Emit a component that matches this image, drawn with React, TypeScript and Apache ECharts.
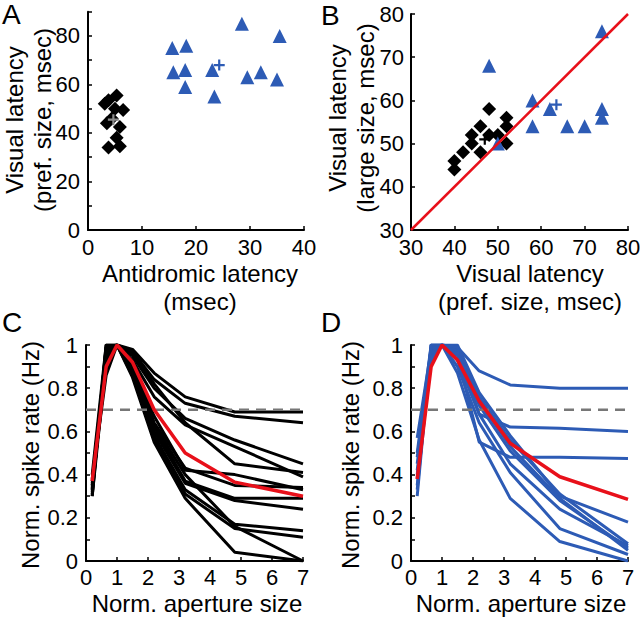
import React, { useEffect, useRef } from "react";
import * as echarts from "echarts";

const FONT = "'Liberation Sans', Arial, Helvetica, sans-serif";
const BLUE = "#2D5BB5";
const RED = "#E8101A";
const GRAY = "#777777";

// ---------- Panel A: antidromic latency vs visual latency ----------
const aBlackAntidromic = [3.8, 5.3, 6.5, 5.0, 3.5, 5.9, 3.8, 5.9, 5.3, 4.4, 3.1];
const aBlackVisual = [53.5, 55.5, 49.5, 50, 44, 42.5, 34, 34.5, 38, 46, 52];
const aBlueAntidromic = [15.6, 18.2, 15.8, 18.0, 18.0, 23.0, 23.4, 28.5, 35.5, 29.5, 32.0, 35.0];
const aBlueVisual = [75, 76, 65, 66, 59, 66, 55, 85, 80, 63, 65, 62];
const aBlackMean = [4.7, 45.5];
const aBlueMean = [24.3, 68];

// ---------- Panel B: visual latency pref size vs large size ----------
const bBlackPref = [48, 52, 52, 46, 44, 48, 50, 44, 46, 42, 40, 40, 52];
const bBlackLarge = [58, 56, 54, 54, 52, 52, 52, 50, 48, 48, 46, 44, 50];
const bBluePref = [48, 74, 58, 58, 62, 66, 70, 74, 74, 50];
const bBlueLarge = [68, 76, 60, 54, 58, 54, 54, 58, 56, 50];
const bBlackMean = [47, 51];
const bBlueMean = [63.5, 59];
const bUnity = [30, 80];

// ---------- Panels C & D: size tuning curves ----------
const apertureSizes = [0.2, 0.65, 1, 1.5, 2.2, 3.2, 4.8, 7];
const cCurves = [
  [0.30, 0.99, 1, 0.98, 0.87, 0.76, 0.69, 0.69],
  [0.33, 0.95, 1, 0.97, 0.84, 0.73, 0.67, 0.64],
  [0.38, 0.86, 1, 0.95, 0.80, 0.66, 0.56, 0.45],
  [0.35, 0.92, 1, 0.96, 0.82, 0.64, 0.45, 0.41],
  [0.40, 1.00, 1, 0.93, 0.76, 0.63, 0.53, 0.39],
  [0.32, 0.97, 1, 0.90, 0.67, 0.42, 0.40, 0.33],
  [0.36, 0.90, 1, 0.92, 0.64, 0.43, 0.35, 0.34],
  [0.31, 1.00, 1, 0.88, 0.62, 0.37, 0.29, 0.29],
  [0.34, 0.94, 1, 0.89, 0.60, 0.36, 0.28, 0.24],
  [0.37, 0.98, 1, 0.87, 0.58, 0.33, 0.17, 0.14],
  [0.30, 0.93, 1, 0.86, 0.56, 0.31, 0.15, 0.11],
  [0.33, 0.99, 1, 0.85, 0.55, 0.29, 0.04, 0.00],
  [0.35, 0.96, 1, 0.90, 0.63, 0.40, 0.16, 0.00],
];
const cMean = [0.37, 0.90, 1, 0.92, 0.70, 0.50, 0.365, 0.30];
const dCurves = [
  [0.57, 0.98, 1, 0.99, 0.88, 0.815, 0.80, 0.80],
  [0.50, 1.00, 1, 0.98, 0.68, 0.62, 0.615, 0.60],
  [0.45, 0.95, 1, 0.95, 0.55, 0.48, 0.48, 0.475],
  [0.35, 0.97, 1, 1.00, 0.78, 0.58, 0.30, 0.18],
  [0.30, 1.00, 1, 0.99, 0.76, 0.56, 0.31, 0.08],
  [0.40, 0.92, 1, 0.97, 0.74, 0.53, 0.29, 0.05],
  [0.33, 0.99, 1, 0.93, 0.68, 0.45, 0.24, 0.07],
  [0.48, 0.96, 1, 0.90, 0.64, 0.41, 0.15, 0.03],
  [0.38, 1.00, 1, 0.87, 0.56, 0.29, 0.09, 0.00],
  [0.42, 0.94, 1, 0.96, 0.72, 0.51, 0.28, 0.06],
];
const dMean = [0.38, 0.90, 1, 0.93, 0.74, 0.545, 0.39, 0.285];
const threshold = 0.7;

const PLUS = "path://M4,0H6V4H10V6H6V10H4V6H0V4H4Z";

const zip = (xs: number[], ys: number[]) => xs.map((x, i) => [x, ys[i]]);

function axisCommon(labelMargin: number) {
  return {
    type: "value" as const,
    axisLine: { show: true, onZero: false, lineStyle: { color: "#000", width: 2 } },
    axisTick: { show: true, inside: true, length: 4, lineStyle: { color: "#000", width: 1.5 } },
    axisLabel: { color: "#000", fontSize: 22, fontFamily: FONT, margin: labelMargin },
    splitLine: { show: false },
  };
}

function buildOption() {
  const series: any[] = [];
  const scatter = (xi: number, symbol: string, size: number, color: string, data: number[][], z = 2) => ({
    type: "scatter", xAxisIndex: xi, yAxisIndex: xi, symbol, symbolSize: size,
    itemStyle: { color, opacity: 1 }, data, z,
  });
  const curve = (xi: number, color: string, width: number, data: number[][], type: any = "solid") => ({
    type: "line", xAxisIndex: xi, yAxisIndex: xi, symbol: "none",
    lineStyle: { color, width, type }, data,
  });

  // Panel A
  series.push(scatter(0, "diamond", 14, "#000", zip(aBlackAntidromic, aBlackVisual)));
  series.push(scatter(0, "triangle", 14, BLUE, zip(aBlueAntidromic, aBlueVisual)));
  series.push(scatter(0, PLUS, 11, "#8A8A8A", [aBlackMean], 5));
  series.push(scatter(0, PLUS, 11, BLUE, [aBlueMean], 5));

  // Panel B
  series.push(curve(1, RED, 2.5, zip(bUnity, bUnity)));
  series.push(scatter(1, "diamond", 14, "#000", zip(bBlackPref, bBlackLarge)));
  series.push(scatter(1, "triangle", 14, BLUE, zip(bBluePref, bBlueLarge)));
  series.push(scatter(1, PLUS, 11, "#000", [bBlackMean], 5));
  series.push(scatter(1, PLUS, 11, BLUE, [bBlueMean], 5));

  // Panel C
  cCurves.forEach((c) => series.push(curve(2, "#000", 3, zip(apertureSizes, c))));
  series.push(curve(2, GRAY, 2.5, [[0, threshold], [7, threshold]], [10, 7]));
  series.push(curve(2, RED, 3.5, zip(apertureSizes, cMean)));

  // Panel D
  dCurves.forEach((c) => series.push(curve(3, BLUE, 3, zip(apertureSizes, c))));
  series.push(curve(3, GRAY, 2.5, [[0, threshold], [7, threshold]], [10, 7]));
  series.push(curve(3, RED, 3.5, zip(apertureSizes, dMean)));

  const normLabel = (v: number) => {
    const t = Math.round(v * 10);
    return t % 2 === 0 ? String(t / 10) : "";
  };

  const ax = axisCommon(6);
  const ay = axisCommon(8);

  const text = (t: string, x: number, y: number, size: number, rot = 0, align = "center", lh = 28) => ({
    type: "text",
    x, y, rotation: rot,
    style: {
      text: t, fontSize: size, fontFamily: FONT, fill: "#000",
      align, verticalAlign: "middle", lineHeight: lh,
    },
  });

  return {
    animation: false,
    backgroundColor: "#fff",
    grid: [
      { left: 88, top: 11.7, width: 216, height: 218.3, outerBoundsMode: "none" },
      { left: 411, top: 14, width: 217, height: 216, outerBoundsMode: "none" },
      { left: 86, top: 345, width: 217, height: 216, outerBoundsMode: "none" },
      { left: 411, top: 345, width: 217, height: 216, outerBoundsMode: "none" },
    ],
    xAxis: [
      { ...ax, gridIndex: 0, min: 0, max: 40, interval: 10 },
      { ...ax, gridIndex: 1, min: 30, max: 80, interval: 10 },
      { ...ax, gridIndex: 2, min: 0, max: 7, interval: 1, axisLabel: { ...ax.axisLabel, margin: 5 } },
      { ...ax, gridIndex: 3, min: 0, max: 7, interval: 1, axisLabel: { ...ax.axisLabel, margin: 5 } },
    ],
    yAxis: [
      {
        ...ay, gridIndex: 0, min: 0, max: 90, interval: 10,
        axisLabel: { ...ay.axisLabel, formatter: (v: number) => (v % 20 === 0 && v <= 80 ? String(v) : "") },
      },
      { ...ay, gridIndex: 1, min: 30, max: 80, interval: 10, axisLabel: { ...ay.axisLabel, margin: 7 } },
      { ...ay, gridIndex: 2, min: 0, max: 1, interval: 0.1, axisLabel: { ...ay.axisLabel, formatter: normLabel } },
      { ...ay, gridIndex: 3, min: 0, max: 1, interval: 0.1, axisLabel: { ...ay.axisLabel, formatter: normLabel } },
    ],
    graphic: [
      text("A", 2, 14, 28, 0, "left", 28),
      text("B", 321, 15, 28, 0, "left", 28),
      text("C", 2, 322, 28, 0, "left", 28),
      text("D", 321, 322, 28, 0, "left", 28),
      text("Visual latency\n(pref. size, msec)", 28, 120, 24, Math.PI / 2),
      text("Antidromic latency\n(msec)", 200, 287, 24),
      text("Visual latency\n(large size, msec)", 351, 118, 24, Math.PI / 2),
      text("Visual latency\n(pref. size, msec)", 530, 287, 24),
      text("Norm. spike rate (Hz)", 30, 455, 24, Math.PI / 2, "center", 24),
      text("Norm. aperture size", 197, 603, 24, 0, "center", 24),
      text("Norm. spike rate (Hz)", 350, 455, 24, Math.PI / 2, "center", 24),
      text("Norm. aperture size", 521, 603, 24, 0, "center", 24),
    ],
    series,
  };
}

export default function App() {
  const ref = useRef<HTMLDivElement>(null);
  useEffect(() => {
    document.body.style.margin = "0";
    if (!ref.current) return;
    const chart = echarts.init(ref.current, null, { renderer: "svg" });
    chart.setOption(buildOption() as any);
    return () => chart.dispose();
  }, []);
  return <div ref={ref} style={{ width: 640, height: 617, background: "#fff" }} />;
}
